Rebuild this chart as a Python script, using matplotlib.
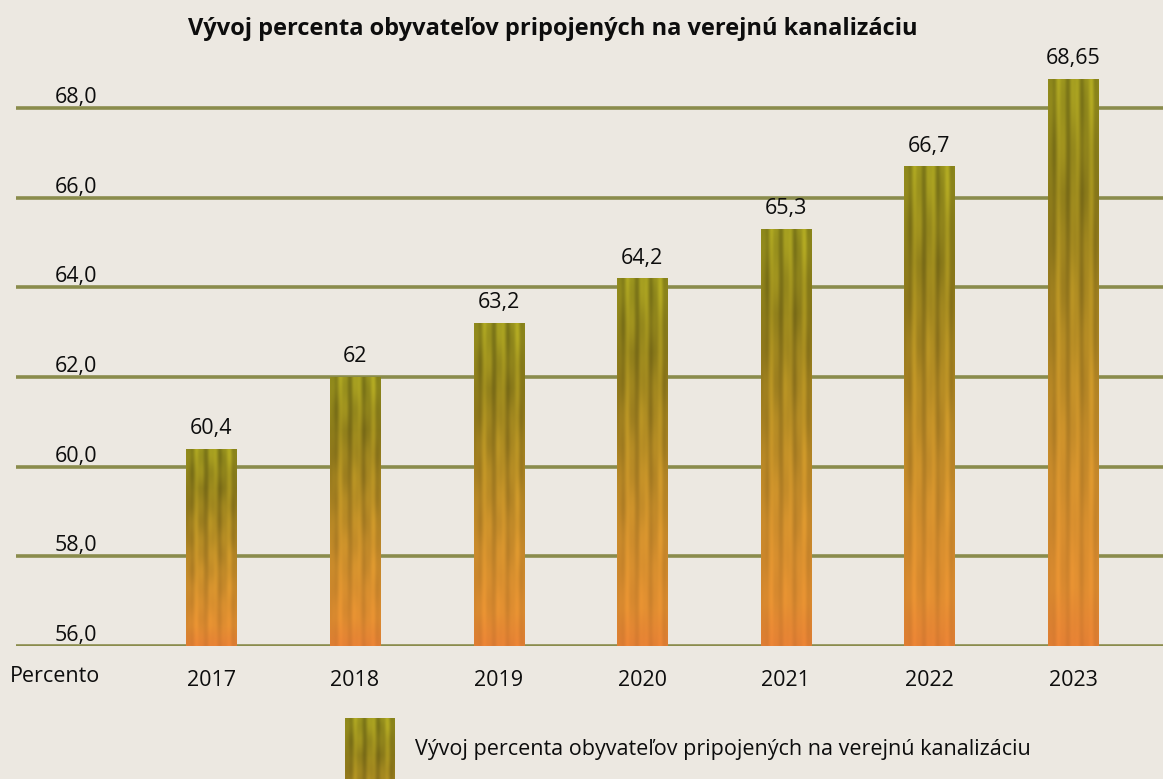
import numpy as np
import matplotlib.pyplot as plt

plt.rcParams['font.family'] = ['Open Sans', 'DejaVu Sans']

# data
years = ['2017', '2018', '2019', '2020', '2021', '2022', '2023']
values = [60.4, 62.0, 63.2, 64.2, 65.3, 66.7, 68.65]
value_labels = ['60,4', '62', '63,2', '64,2', '65,3', '66,7', '68,65']
yticks = [56, 58, 60, 62, 64, 66, 68]
ytick_labels = ['56,0', '58,0', '60,0', '62,0', '64,0', '66,0', '68,0']
title = 'Vývoj percenta obyvateľov pripojených na verejnú kanalizáciu'
axis_name = 'Percento'

BG = '#ece8e1'
GRID = '#8a8c4c'
TXT = '#0d0d0d'


def bar_texture(h=300, w=60):
    # bark-like fill: yellow-olive at the top fading to orange, vertical streaks
    t = np.linspace(0, 1, h)[:, None]
    u = np.linspace(0, 1, w)[None, :]
    stops = np.array([0.0, 0.1, 0.3, 0.55, 0.8, 1.0])
    cols = np.array([
        [240, 135, 55],
        [238, 150, 52],
        [225, 155, 48],
        [200, 155, 40],
        [170, 150, 32],
        [185, 178, 36],
    ]) / 255.0
    base = np.stack([np.interp(t[:, 0], stops, cols[:, k]) for k in range(3)], axis=1)
    base = base[:, None, :] * np.ones((1, w, 1))
    streak = 0.5 + 0.5 * np.sin(2 * np.pi * (3.3 * u + 0.06 * np.sin(2 * np.pi * 2 * t)))
    fine = 0.5 + 0.5 * np.sin(2 * np.pi * (7.5 * u + 0.3))
    blotch = 0.5 + 0.5 * np.sin(2 * np.pi * 6 * t) * np.sin(2 * np.pi * 2.5 * u)
    dark = 1 - (0.22 * streak + 0.08 * fine + 0.06 * blotch) * (0.3 + 0.7 * t)
    img = base * dark[:, :, None]
    return np.clip(img, 0, 1)


tex = bar_texture()

fig = plt.figure(figsize=(11.63, 7.79), dpi=100, facecolor=BG)
W, H = 1163, 779
ax = fig.add_axes([16 / W, 1 - 646 / H, 1147 / W, (646 - 18.3) / H])
ax.set_facecolor(BG)

x = np.arange(len(years))
bar_w = 0.35
bars = ax.bar(x, [v - 56 for v in values], bottom=56, width=bar_w,
              color='none', edgecolor='none', zorder=3)
for b in bars:
    x0, y0 = b.get_x(), b.get_y()
    im = ax.imshow(tex, origin='lower', aspect='auto', interpolation='bilinear',
                   extent=(x0, x0 + b.get_width(), y0, y0 + b.get_height()), zorder=3)
    im.set_clip_path(b)

for xi, v, lab in zip(x, values, value_labels):
    ax.annotate(lab, (xi, v), xytext=(0, 7), textcoords='offset points',
                ha='center', va='bottom', fontsize=15.5, color=TXT)

ax.set_xlim(-1.361, 6.626)
ax.set_ylim(56, 70)
ax.set_yticks(yticks)
ax.set_yticklabels([])
ax.grid(axis='y', color=GRID, linewidth=2.6, zorder=1)
ax.set_axisbelow(True)
ax.tick_params(length=0)
ax.set_xticks(x)
ax.set_xticklabels(years, fontsize=15.5, color=TXT)
ax.tick_params(axis='x', pad=17)
for s in ax.spines.values():
    s.set_visible(False)

for v, lab in zip(yticks, ytick_labels):
    ax.text((97 - 16) / 1147, v, lab, transform=ax.get_yaxis_transform(),
            ha='right', va='bottom', fontsize=15.5, color=TXT)

fig.text(55 / W, 1 - 677 / H, axis_name, ha='center', va='center', fontsize=15.5, color=TXT)
fig.text(553 / W, 1 - 29 / H, title, ha='center', va='center', fontsize=17,
         fontweight='bold', color=TXT)

# legend
lax = fig.add_axes([345 / W, 0, 50 / W, 61 / H])
lax.imshow(tex[200:, :], origin='lower', aspect='auto', interpolation='bilinear')
lax.axis('off')
fig.text(415 / W, 1 - 750 / H, title, ha='left', va='center', fontsize=15.5, color=TXT)

fig.savefig('out.png', dpi=100, facecolor=BG)
